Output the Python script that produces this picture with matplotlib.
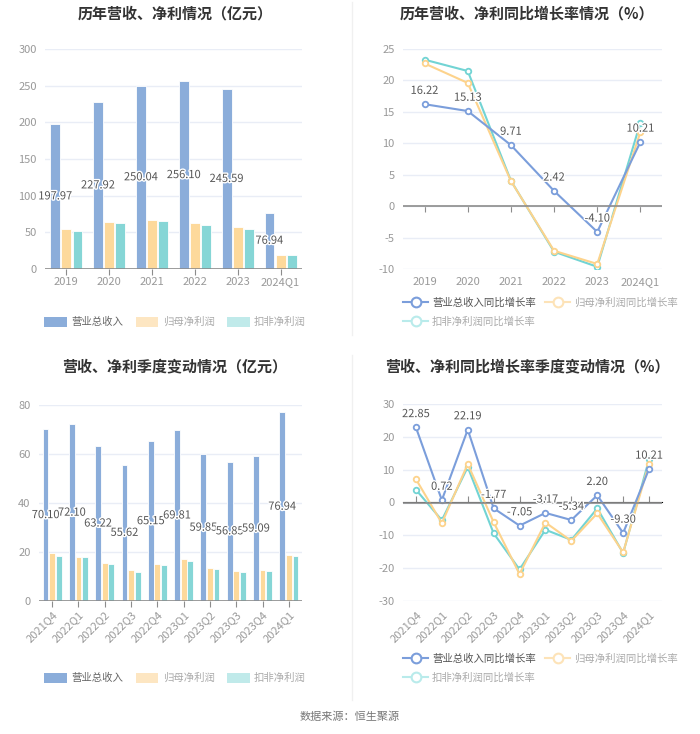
import numpy as np
import matplotlib
matplotlib.use("Agg")
import matplotlib.pyplot as plt
from matplotlib.lines import Line2D
from matplotlib.patches import Patch
import matplotlib.patheffects as pe

plt.rcParams['font.family'] = ['Noto Sans CJK SC', 'DejaVu Sans']
plt.rcParams['axes.unicode_minus'] = False

# yearly data
years = ['2019', '2020', '2021', '2022', '2023', '2024Q1']
rev_y = [197.97, 227.92, 250.04, 256.10, 245.59, 76.94]
net_y = [54.0, 64.5, 67.3, 62.7, 56.8, 19.5]
ded_y = [51.4, 62.3, 65.0, 60.5, 54.5, 19.0]

rev_g_y = [16.22, 15.13, 9.71, 2.42, -4.10, 10.21]
net_g_y = [22.7, 19.6, 4.0, -7.1, -9.2, 11.8]
ded_g_y = [23.3, 21.5, 4.05, -7.25, -9.65, 13.3]

# quarterly data
quarters = ['2021Q4', '2022Q1', '2022Q2', '2022Q3', '2022Q4',
            '2023Q1', '2023Q2', '2023Q3', '2023Q4', '2024Q1']
rev_q = [70.10, 72.10, 63.22, 55.62, 65.15, 69.81, 59.85, 56.85, 59.09, 76.94]
net_q = [19.6, 18.1, 15.5, 12.6, 15.2, 17.1, 13.6, 12.2, 12.8, 18.9]
ded_q = [18.3, 17.8, 14.9, 12.0, 14.5, 16.3, 13.2, 11.7, 12.4, 18.5]

rev_g_q = [22.85, 0.72, 22.19, -1.77, -7.05, -3.17, -5.34, 2.20, -9.30, 10.21]
net_g_q = [7.1, -6.3, 11.7, -6.0, -21.8, -6.1, -11.7, -3.3, -15.2, 11.8]
ded_g_q = [3.9, -5.4, 10.8, -9.4, -20.4, -8.3, -11.4, -1.8, -15.4, 13.1]

labels3 = ['营业总收入', '归母净利润', '扣非净利润']
labels_g = ['营业总收入同比增长率', '归母净利润同比增长率', '扣非净利润同比增长率']

BLUE = '#8badda'
YEL = '#fdd99b'
TEAL = '#86d6d6'
LBLUE = '#7b9edb'
LYEL = '#fdd38c'
LTEAL = '#72d4d4'
GRID = '#e9edf6'
TICK = '#999999'
TXT = '#555555'

W, H = 700, 734
fig = plt.figure(figsize=(7, 7.34), dpi=100)


def add_ax(x0, y0, x1, y1):
    return fig.add_axes([x0 / W, 1 - y1 / H, (x1 - x0) / W, (y1 - y0) / H])


def style(ax, ymin, ymax, step, ncat, rot=0):
    ax.set_xlim(-0.5, ncat - 0.5)
    ax.set_ylim(ymin, ymax)
    ax.set_yticks(np.arange(ymin, ymax + 0.1, step))
    ax.grid(axis='y', color=GRID, linewidth=1)
    ax.set_axisbelow(True)
    for s in ['top', 'right', 'left', 'bottom']:
        ax.spines[s].set_visible(False)
    ax.tick_params(axis='y', length=0, labelsize=8, labelcolor=TICK, pad=6)
    ax.tick_params(axis='x', length=0, labelsize=8, labelcolor=TICK, pad=6)
    if rot:
        for t in ax.get_xticklabels():
            t.set_rotation(rot)
            t.set_ha('right')
            t.set_rotation_mode('anchor')
    # axis line at zero with tick marks
    ax.axhline(0, color='#8c8c8c', linewidth=1.2, zorder=3)
    frac = (0 - ymin) / (ymax - ymin)
    sec = ax.secondary_xaxis(frac)
    sec.set_xticks(np.arange(ncat))
    sec.set_xticklabels([])
    sec.tick_params(axis='x', direction='out', length=4, color='#8c8c8c')
    sec.spines['bottom'].set_visible(False)


def bars(ax, cats, rev, net, ded, ymin, ymax, step, rot=0):
    x = np.arange(len(cats))
    bw = 0.23 if len(cats) == 6 else 0.22
    off = bw + 0.03
    ax.bar(x - off, rev, bw, color=BLUE, edgecolor='white', linewidth=0.6, zorder=2)
    ax.bar(x, net, bw, color=YEL, edgecolor='white', linewidth=0.6, zorder=2)
    ax.bar(x + off, ded, bw, color=TEAL, edgecolor='white', linewidth=0.6, zorder=2)
    for xi, v in zip(x, rev):
        ax.text(xi - off, v / 2, f'{v:.2f}', ha='center', va='center', fontsize=8,
                color=TXT, zorder=4,
                path_effects=[pe.withStroke(linewidth=2, foreground='white')])
    ax.set_xticks(x)
    ax.set_xticklabels(cats)
    style(ax, ymin, ymax, step, len(cats), rot)


def lines(ax, cats, rev, net, ded, ymin, ymax, step, rot=0):
    x = np.arange(len(cats))
    kw = dict(linewidth=1.5, marker='o', markersize=4, markerfacecolor='white',
              markeredgewidth=1.3, zorder=3)
    ax.plot(x, ded, color=LTEAL, **kw)
    ax.plot(x, net, color=LYEL, **kw)
    ax.plot(x, rev, color=LBLUE, **kw)
    for xi, v in zip(x, rev):
        ax.annotate(f'{v:.2f}', (xi, v), xytext=(0, 6), textcoords='offset points',
                    ha='center', va='bottom', fontsize=8, color=TXT, zorder=5,
                    path_effects=[pe.withStroke(linewidth=2, foreground='white')])
    ax.set_xticks(x)
    ax.set_xticklabels(cats)
    style(ax, ymin, ymax, step, len(cats), rot)


def title(xc, y, s):
    fig.text(xc / W, 1 - y / H, s, ha='center', va='center', fontsize=10.8,
             fontweight='bold', color='#333333')


def bar_legend(xc, y):
    h = [Patch(facecolor=BLUE, edgecolor='none'),
         Patch(facecolor='#fde6c2', edgecolor='none'),
         Patch(facecolor='#c0eaea', edgecolor='none')]
    lg = fig.legend(h, labels3, loc='center', bbox_to_anchor=(xc / W, 1 - y / H),
                    ncol=3, frameon=False, fontsize=7.5, handlelength=2.2,
                    handleheight=1.1, handletextpad=0.4, columnspacing=1.2)
    for i, t in enumerate(lg.get_texts()):
        t.set_color('#666666' if i == 0 else '#aaaaaa')


def line_legend(x0, y):
    mk = dict(marker='o', markersize=7, markerfacecolor='white', markeredgewidth=1.5,
              linewidth=1.5)
    h = [Line2D([], [], color=LBLUE, **mk),
         Line2D([], [], color='#b9ebeb', **mk),
         Line2D([], [], color='#fde3b8', **mk)]
    labs = [labels_g[0], labels_g[2], labels_g[1]]
    lg = fig.legend(h, labs, loc='upper left', bbox_to_anchor=(x0 / W, 1 - y / H),
                    ncol=2, frameon=False, fontsize=7.5, handlelength=2.4,
                    handletextpad=0.4, columnspacing=0.9, labelspacing=0.9,
                    borderaxespad=0, borderpad=0)
    for i, t in enumerate(lg.get_texts()):
        t.set_color('#555555' if i == 0 else '#aaaaaa')


# top left
ax1 = add_ax(45, 49, 302, 269)
bars(ax1, years, rev_y, net_y, ded_y, 0, 300, 50)
title(175, 13, '历年营收、净利情况（亿元）')
bar_legend(175, 322)

# top right
ax2 = add_ax(403, 49, 662, 269)
lines(ax2, years, rev_g_y, net_g_y, ded_g_y, -10, 25, 5)
title(527, 13, '历年营收、净利同比增长率情况（%）')
line_legend(403, 297)

# bottom left
ax3 = add_ax(39, 405, 302, 601)
bars(ax3, quarters, rev_q, net_q, ded_q, 0, 80, 20, rot=45)
title(175, 366, '营收、净利季度变动情况（亿元）')
bar_legend(175, 678)

# bottom right
ax4 = add_ax(403, 404, 662, 601)
lines(ax4, quarters, rev_g_q, net_g_q, ded_g_q, -30, 30, 10, rot=45)
title(527, 366, '营收、净利同比增长率季度变动情况（%）')
line_legend(403, 653)

# dividers
fig.add_artist(Line2D([352 / W, 352 / W], [1 - 2 / H, 1 - 335 / H], color='#f0f0f0', linewidth=1))
fig.add_artist(Line2D([352 / W, 352 / W], [1 - 355 / H, 1 - 700 / H], color='#f0f0f0', linewidth=1))

fig.text(0.5, 1 - 717 / H, '数据来源：恒生聚源', ha='center', va='center', fontsize=8,
         color='#777777')

fig.savefig('out.png', dpi=100)
